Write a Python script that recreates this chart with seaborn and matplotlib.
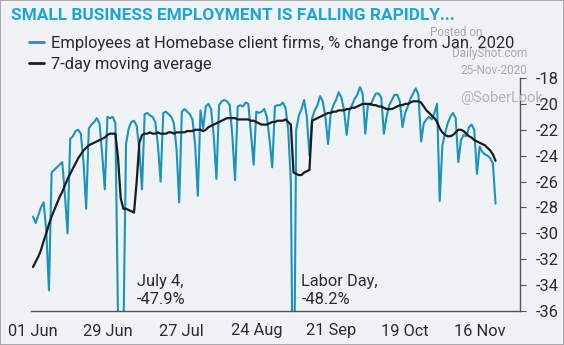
import matplotlib
matplotlib.use("Agg")
import matplotlib.pyplot as plt
import matplotlib.dates as mdates
from matplotlib.patches import Rectangle
import numpy as np
import pandas as pd
import seaborn as sns

# ---------------- data ----------------
start_date = "2020-06-01"

employees_pct = [
    -28.7, -29.2, -28.6, -28.0, -27.6, -29.8, -34.4,
    -25.3, -25.1, -24.9, -24.7, -24.5, -27.0, -30.0,
    -22.7, -22.5, -22.1, -22.0, -22.3, -24.5, -28.1,
    -21.9, -21.6, -21.4, -21.1, -21.5, -23.8, -26.6,
    -21.0, -21.1, -21.0, -21.5, -37.5, -47.9, -38.0,
    -23.1, -21.9, -21.4, -21.3, -21.7, -23.5, -26.6,
    -20.8, -20.7, -20.9, -21.0, -21.4, -23.2, -26.0,
    -20.7, -20.6, -20.8, -21.0, -21.5, -23.5, -27.6,
    -20.6, -20.4, -20.6, -20.8, -21.2, -23.2, -27.1,
    -20.5, -21.9, -20.2, -20.0, -20.4, -22.5, -25.8,
    -20.1, -19.8, -19.7, -19.8, -20.1, -22.5, -25.9,
    -20.2, -20.1, -20.2, -19.9, -20.0, -22.3, -24.7,
    -20.6, -20.7, -20.6, -20.4, -21.0, -22.8, -24.9,
    -20.2, -20.1, -20.1, -19.9, -20.3, -22.0, -26.0,
    -48.2, -22.0, -20.9, -20.4, -19.7, -21.0, -24.0,
    -21.1, -20.5, -20.1, -19.4, -19.8, -21.0, -23.1,
    -20.7, -20.1, -19.7, -19.1, -19.5, -20.5, -22.4,
    -20.5, -20.1, -19.6, -19.3, -18.7, -19.2, -22.3,
    -20.0, -20.1, -19.6, -19.2, -19.2, -19.5, -22.3,
    -21.0, -20.1, -19.7, -19.3, -19.3, -19.8, -21.8,
    -20.7, -20.2, -19.6, -19.2, -18.8, -19.3, -22.9,
    -21.5, -21.2, -21.0, -21.2, -20.7, -20.0, -27.5,
    -23.2, -22.3, -21.5, -21.0, -20.7, -21.1, -24.5,
    -22.8, -22.4, -22.5, -21.8, -21.6, -22.0, -25.4,
    -23.3, -23.7, -23.9, -24.0, -24.2, -24.6, -27.7,
]

moving_avg = [
    -32.6, -32.2, -31.8, -31.3, -30.6, -30.0, -29.3,
    -28.7, -28.2, -27.7, -27.2, -26.8, -26.3, -25.8,
    -25.4, -25.0, -24.6, -24.2, -23.9, -23.6, -23.4,
    -23.2, -23.1, -23.0, -22.9, -22.8, -22.7, -22.6,
    -22.4, -22.3, -22.3, -22.3, -24.2, -27.3, -28.1,
    -28.1, -28.2, -28.3, -28.4, -26.0, -23.0, -22.4,
    -22.3, -22.3, -22.2, -22.3, -22.3, -22.2, -22.3,
    -22.3, -22.3, -22.2, -22.2, -22.3, -22.2, -22.2,
    -22.2, -22.2, -22.1, -22.1, -22.1, -22.0, -22.0,
    -22.0, -22.1, -22.0, -21.8, -21.7, -21.6, -21.5,
    -21.4, -21.3, -21.2, -21.1, -21.1, -21.1, -21.1,
    -21.2, -21.2, -21.2, -21.2, -21.2, -21.3, -21.3,
    -21.4, -21.5, -21.6, -21.6, -21.6, -21.5, -21.4,
    -21.4, -21.3, -21.3, -21.3, -21.2, -21.4, -21.6,
    -25.3, -25.4, -25.5, -25.5, -25.3, -25.2, -25.1,
    -21.3, -21.2, -21.1, -21.0, -20.9, -20.8, -20.7,
    -20.7, -20.6, -20.6, -20.5, -20.5, -20.5, -20.4,
    -20.4, -20.3, -20.3, -20.2, -20.1, -20.0, -20.0,
    -20.0, -20.0, -20.1, -20.1, -20.2, -20.2, -20.3,
    -20.4, -20.4, -20.4, -20.3, -20.2, -20.1, -20.1,
    -20.0, -20.0, -19.9, -19.8, -19.8, -19.8, -19.9,
    -20.2, -20.5, -20.7, -20.9, -21.1, -21.4, -21.9,
    -22.2, -22.4, -22.5, -22.5, -22.4, -22.2, -22.0,
    -22.0, -22.1, -22.3, -22.5, -22.6, -22.8, -22.9,
    -23.0, -23.1, -23.2, -23.4, -23.6, -23.9, -24.4,
]

y_ticks = [-18, -20, -22, -24, -26, -28, -30, -32, -34, -36]
title_text = "SMALL BUSINESS EMPLOYMENT IS FALLING RAPIDLY..."
label_emp = "Employees at Homebase client firms, % change from Jan. 2020"
label_ma = "7-day moving average"
annot_july = "July 4,\n-47.9%"
annot_labor = "Labor Day,\n-48.2%"
annot_july_date = "2020-07-10"
annot_labor_date = "2020-09-10"

dates = pd.date_range(start_date, periods=len(employees_pct), freq="D")
df = pd.DataFrame({"date": dates, "emp": employees_pct, "ma": moving_avg})

# ---------------- style ----------------
sns.set_style("white")
plt.rcParams["font.family"] = ["Roboto", "DejaVu Sans"]

BG = "#eff3f6"
BLUE = "#1a93bd"
TXT = "#2b2b2b"
AX = "#555555"

fig = plt.figure(figsize=(5.64, 3.45), dpi=100, facecolor=BG)
ax = fig.add_axes([31 / 564, 1 - 311 / 345, (520 - 31) / 564, (311 - 78) / 345])
ax.set_facecolor(BG)

sns.lineplot(data=df, x="date", y="emp", ax=ax, color=BLUE, lw=1.5,
             label=label_emp)
sns.lineplot(data=df, x="date", y="ma", ax=ax, color="#1c1c1c", lw=1.6,
             label=label_ma)

x0 = pd.Timestamp(start_date)
ax.set_xlim(x0 - pd.Timedelta(hours=18), x0 + pd.Timedelta(days=183.2))
ax.set_ylim(-36, -18)

# axes styling
for s in ["left", "top"]:
    ax.spines[s].set_visible(False)
for s in ["right", "bottom"]:
    ax.spines[s].set_color(AX)
    ax.spines[s].set_linewidth(1.0)
ax.yaxis.tick_right()
ax.set_yticks(y_ticks)
ax.set_yticklabels([str(v) for v in y_ticks])
ax.tick_params(axis="y", which="both", direction="out", length=4, width=0.8,
               color=AX, labelsize=11.8, labelcolor=TXT, pad=7)

major = pd.date_range(start_date, "2020-11-30", freq="28D")
minor = pd.date_range(start_date, "2020-11-30", freq="7D")
ax.set_xticks(major)
ax.set_xticks(minor, minor=True)
ax.xaxis.set_major_formatter(mdates.DateFormatter("%d %b"))
ax.tick_params(axis="x", which="both", direction="out", length=4, width=0.8,
               color=AX, labelsize=11.8, labelcolor=TXT, pad=5)
ax.set_xlabel("")
ax.set_ylabel("")
ax.grid(False)

# legend
leg = ax.legend(loc="upper left", bbox_to_anchor=(29 / 564, 1 - 35 / 345),
                bbox_transform=fig.transFigure, frameon=False, fontsize=11.9,
                handlelength=0.9, handletextpad=0.45, labelspacing=0.36,
                borderpad=0, borderaxespad=0)
for t in leg.get_texts():
    t.set_color(TXT)
for h in leg.get_lines():
    h.set_linewidth(2.0)

# annotations
ax.text(pd.Timestamp(annot_july_date), -34.45, annot_july, fontsize=11.8,
        color=TXT, va="center", ha="left", linespacing=1.25)
ax.text(pd.Timestamp(annot_labor_date), -34.45, annot_labor, fontsize=11.8,
        color=TXT, va="center", ha="left", linespacing=1.25)

# title and watermarks
fig.text(11 / 564, 1 - 15 / 345, title_text, fontsize=12.4, fontweight="bold",
         color="#1ea5d8", va="center", ha="left")
fig.text(482 / 564, 1 - 33 / 345, "Posted on", fontsize=8.5, color="#a9a9a9",
         ha="right", va="center")
fig.text(527 / 564, 1 - 53 / 345, "DailyShot.com", fontsize=8.5,
         color="#a9a9a9", ha="right", va="center")
fig.text(527 / 564, 1 - 70 / 345, "25-Nov-2020", fontsize=8.5,
         color="#a9a9a9", ha="right", va="center")
fig.text(460 / 564, 1 - 98 / 345, "@SoberLook", fontsize=10.5,
         color="#b4b4b4", ha="left", va="center")

fig.patches.append(Rectangle((0, 0), 1, 1, transform=fig.transFigure,
                             fill=False, edgecolor="#9c9c9c", lw=1.2))

fig.savefig("out.png", dpi=100, facecolor=BG)
